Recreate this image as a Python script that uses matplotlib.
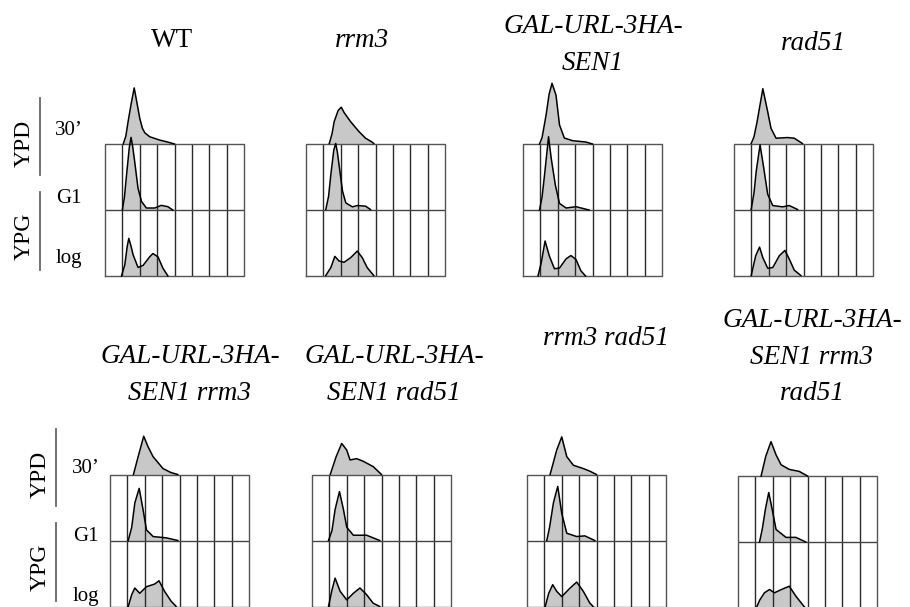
import matplotlib
matplotlib.use("Agg")
import matplotlib.pyplot as plt

W, H = 910, 607

# strain names (one per panel, top row then bottom row)
strains = ["WT", "rrm3", "GAL-URL-3HA-\nSEN1", "rad51",
           "GAL-URL-3HA-\nSEN1 rrm3", "GAL-URL-3HA-\nSEN1 rad51",
           "rrm3 rad51", "GAL-URL-3HA-\nSEN1 rrm3\nrad51"]
italic = [False, True, True, True, True, True, True, True]
conditions = ["30\u2019", "G1", "log"]
media = ["YPD", "YPG"]

# DNA content profiles, (channel in grid columns, counts in row heights)
ypd_30 = [
    [(1.05, 0), (1.2, 0.12), (1.33, 0.34), (1.5, 0.6), (1.68, 0.85), (1.8, 0.68), (2.0, 0.39),
     (2.15, 0.24), (2.29, 0.17), (2.57, 0.11), (3.14, 0.06), (3.6, 0.03), (4.0, 0)],
    [(1.34, 0), (1.5, 0.15), (1.62, 0.33), (1.85, 0.5), (2.03, 0.55), (2.19, 0.47), (2.57, 0.33),
     (3.05, 0.18), (3.43, 0.08), (3.81, 0.02), (3.9, 0)],
    [(0.95, 0), (1.1, 0.1), (1.33, 0.44), (1.5, 0.75), (1.67, 0.92), (1.9, 0.74), (2.1, 0.29),
     (2.38, 0.09), (2.86, 0.05), (3.62, 0.03), (4.0, 0)],
    [(0.99, 0), (1.15, 0.1), (1.33, 0.33), (1.66, 0.83), (1.94, 0.48), (2.13, 0.23), (2.42, 0.08),
     (3.09, 0.09), (3.47, 0.08), (3.94, 0)],
    [(1.35, 0), (1.62, 0.27), (1.94, 0.58), (2.19, 0.42), (2.48, 0.27), (3.05, 0.09), (3.5, 0.03),
     (3.9, 0)],
    [(1.05, 0), (1.39, 0.27), (1.71, 0.47), (2.0, 0.37), (2.19, 0.22), (2.57, 0.24), (2.95, 0.2),
     (3.52, 0.12), (4.0, 0)],
    [(1.33, 0), (1.71, 0.37), (2.0, 0.57), (2.29, 0.27), (2.67, 0.14), (3.24, 0.09), (3.62, 0.05),
     (4.0, 0)],
    [(1.33, 0), (1.6, 0.3), (1.9, 0.52), (2.19, 0.32), (2.48, 0.17), (2.95, 0.1), (3.52, 0.07),
     (4.0, 0)],
]
ypg_g1 = [
    [(1.0, 0), (1.12, 0.2), (1.24, 0.53), (1.4, 0.95), (1.5, 1.1), (1.6, 0.95), (1.71, 0.73),
     (1.9, 0.33), (2.1, 0.13), (2.38, 0.03), (2.86, 0.03), (3.24, 0.07), (3.62, 0.05), (3.9, 0)],
    [(1.14, 0), (1.3, 0.2), (1.43, 0.53), (1.6, 0.9), (1.71, 1.0), (1.8, 0.88), (1.9, 0.68),
     (2.1, 0.28), (2.29, 0.1), (2.67, 0.04), (2.95, 0.06), (3.43, 0.05), (3.71, 0)],
    [(0.95, 0), (1.1, 0.2), (1.24, 0.53), (1.47, 1.11), (1.62, 0.79), (1.86, 0.38), (2.1, 0.1),
     (2.48, 0.03), (3.05, 0.05), (3.8, 0)],
    [(0.99, 0), (1.15, 0.25), (1.28, 0.58), (1.5, 0.98), (1.71, 0.63), (1.94, 0.23), (2.23, 0.06),
     (2.8, 0.04), (3.18, 0.06), (3.66, 0)],
    [(1.05, 0), (1.25, 0.2), (1.43, 0.57), (1.68, 0.79), (1.9, 0.47), (2.1, 0.16), (2.48, 0.06),
     (3.24, 0.04), (3.9, 0)],
    [(0.95, 0), (1.15, 0.15), (1.33, 0.47), (1.58, 0.74), (1.81, 0.47), (2.0, 0.2), (2.38, 0.08),
     (3.14, 0.08), (3.52, 0.04), (3.9, 0)],
    [(1.14, 0), (1.3, 0.2), (1.52, 0.57), (1.77, 0.82), (2.0, 0.41), (2.29, 0.11), (2.86, 0.06),
     (3.33, 0.07), (3.9, 0)],
    [(1.24, 0), (1.4, 0.2), (1.58, 0.5), (1.77, 0.75), (2.0, 0.45), (2.19, 0.19), (2.76, 0.07),
     (3.33, 0.07), (3.9, 0)],
]
ypg_log = [
    [(0.95, 0), (1.14, 0.17), (1.28, 0.45), (1.37, 0.57), (1.5, 0.45), (1.62, 0.32), (1.9, 0.13),
     (2.19, 0.16), (2.57, 0.29), (2.76, 0.34), (3.05, 0.29), (3.33, 0.12), (3.62, 0)],
    [(1.14, 0), (1.43, 0.12), (1.66, 0.29), (1.9, 0.22), (2.19, 0.2), (2.57, 0.27), (2.95, 0.37),
     (3.24, 0.27), (3.52, 0.12), (3.9, 0)],
    [(0.86, 0), (1.05, 0.2), (1.27, 0.53), (1.52, 0.3), (1.81, 0.11), (2.1, 0.12), (2.48, 0.26),
     (2.76, 0.31), (3.05, 0.25), (3.33, 0.08), (3.6, 0)],
    [(0.99, 0), (1.25, 0.3), (1.47, 0.43), (1.66, 0.27), (1.94, 0.11), (2.23, 0.12), (2.61, 0.3),
     (2.93, 0.38), (3.18, 0.25), (3.47, 0.08), (3.85, 0)],
    [(1.05, 0), (1.25, 0.18), (1.43, 0.28), (1.71, 0.2), (2.1, 0.3), (2.57, 0.34), (2.82, 0.39),
     (3.14, 0.23), (3.52, 0.08), (3.81, 0)],
    [(0.95, 0), (1.15, 0.25), (1.33, 0.43), (1.62, 0.23), (2.0, 0.1), (2.38, 0.2), (2.76, 0.28),
     (3.14, 0.18), (3.52, 0.05), (3.9, 0)],
    [(1.05, 0), (1.25, 0.2), (1.48, 0.33), (1.71, 0.23), (2.0, 0.15), (2.48, 0.28), (2.86, 0.37),
     (3.24, 0.23), (3.62, 0.05), (3.81, 0)],
    [(1.05, 0), (1.25, 0.12), (1.52, 0.23), (1.81, 0.28), (2.1, 0.23), (2.5, 0.28), (2.95, 0.33),
     (3.33, 0.18), (3.81, 0.02), (3.9, 0)],
]

# panel placement in pixels (left edge / top edge of the gridded box)
box_left = [105, 306, 523, 734, 110, 312, 527, 738]
box_top = [144, 143.5, 144, 143.5, 474.5, 474.5, 474.5, 476]
title_x = [172, 362, 593, 813, 190, 394, 606, 812]
title_base = [47, 47, 33, 50, 363, 363, 345, 327]
ROW = 66
BOXW = 139

serif = "Liberation Serif"
fill_c = "#c8c8c8"

fig = plt.figure(figsize=(W / 100, H / 100), dpi=100)
bg = fig.add_axes([0, 0, 1, 1])
bg.set_xlim(0, W)
bg.set_ylim(H, 0)
bg.axis("off")

# titles
for i, name in enumerate(strains):
    for k, line in enumerate(name.split("\n")):
        bg.text(title_x[i], title_base[i] + k * 36.5, line, ha="center", va="baseline",
                family=serif, fontsize=19.5, style="italic" if italic[i] else "normal")

# medium / condition labels at the left of each row
for lx, ly, cx, base in [(40, 0, 69, 0), (56, 331, 86, 338)]:
    bg.plot([lx, lx], [98 + ly, 175 + ly], color="#666666", lw=1.3)
    bg.plot([lx, lx], [192 + ly, 270 + ly], color="#666666", lw=1.3)
    bg.text(lx - 16, 143 + ly, media[0], rotation=90, ha="center", va="center",
            family=serif, fontsize=17)
    bg.text(lx - 16, 236 + ly, media[1], rotation=90, ha="center", va="center",
            family=serif, fontsize=17)
    for c, yb in zip(conditions, [135, 203, 263]):
        bg.text(cx, yb + base, c, ha="center", va="baseline", family=serif, fontsize=15)

for i in range(len(strains)):
    ax = fig.add_axes([box_left[i] / W, 1 - (box_top[i] + 2 * ROW) / H,
                       BOXW / W, 3 * ROW / H])
    ax.set_xlim(0, 8)
    ax.set_ylim(0, 3)
    ax.axis("off")
    for base, prof in zip([2, 1, 0], [ypd_30[i], ypg_g1[i], ypg_log[i]]):
        xs = [p[0] for p in prof]
        ys = [base + p[1] for p in prof]
        ax.fill_between(xs, base, ys, color=fill_c, lw=0, zorder=1, clip_on=False)
        ax.plot(xs, ys, color="black", lw=1.1, zorder=3, clip_on=False)
    ax.vlines(range(1, 8), 0, 2, color="#2a2a2a", lw=1.0, zorder=2)
    ax.hlines(1, 0, 8, color="#444444", lw=1.0, zorder=2)
    ax.plot([0, 8, 8, 0, 0], [0, 0, 2, 2, 0], color="#555555", lw=1.0, zorder=2,
            clip_on=False)

fig.savefig("out.png", dpi=100)
